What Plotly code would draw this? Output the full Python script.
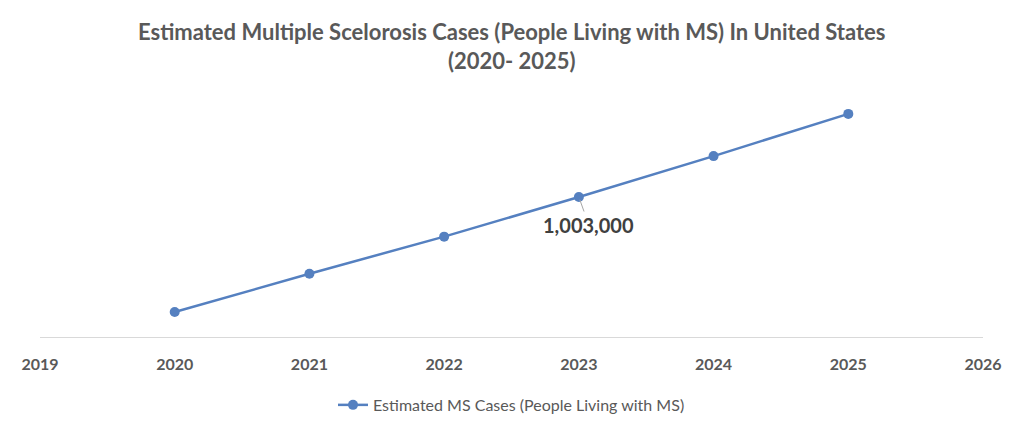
import plotly.graph_objects as go

# Estimated people living with MS in the US (only 2023 is labelled in the source)
years = [2020, 2021, 2022, 2023, 2024, 2025]
cases = [913000, 943000, 972000, 1003000, 1035000, 1068000]
tick_years = [2019, 2020, 2021, 2022, 2023, 2024, 2025, 2026]

LINE_COLOR = '#5580C0'
TEXT_COLOR = '#595959'

fig = go.Figure()

fig.add_trace(go.Scatter(
    x=years,
    y=cases,
    mode='lines+markers',
    name='Estimated MS Cases (People Living with MS)',
    line=dict(color=LINE_COLOR, width=2.5),
    marker=dict(color=LINE_COLOR, size=10),
    hovertemplate='%{x}: %{y:,}<extra></extra>'
))

# Data label for 2023 with a short leader line
fig.add_annotation(
    x=years[3], y=cases[3],
    text=f"<b>{cases[3]:,}</b>",
    showarrow=True, arrowhead=0, arrowcolor='#a6a6a6', arrowwidth=1,
    ax=10, ay=28, standoff=3,
    font=dict(family='Lato', size=20, color='#404040')
)

# Title as an annotation so both lines sit where they should
fig.add_annotation(
    xref='paper', yref='paper', x=0.5, y=1.177,
    xanchor='center', yanchor='middle', showarrow=False,
    text='<b>Estimated Multiple Scelorosis Cases (People Living with MS) In United States<br>(2020- 2025)</b>',
    font=dict(family='Lato', size=22, color=TEXT_COLOR)
)

fig.update_layout(
    width=1016, height=425,
    margin=dict(l=32, r=41, t=82, b=95),
    plot_bgcolor='white',
    paper_bgcolor='white',
    showlegend=True,
    legend=dict(
        orientation='h', x=0.5, xanchor='center', y=-0.27, yanchor='middle',
        font=dict(family='Lato', size=16, color=TEXT_COLOR)
    ),
    xaxis=dict(
        range=[2019, 2026],
        tickmode='array', tickvals=tick_years,
        ticktext=[f'<b>{y}</b>' for y in tick_years],
        showgrid=False, zeroline=False,
        showline=True, linecolor='#d9d9d9', linewidth=1,
        ticks='', ticklabelstandoff=13,
        tickfont=dict(family='Lato', size=16, color=TEXT_COLOR)
    ),
    yaxis=dict(
        range=[893500, 1086700],
        visible=False, showgrid=False, zeroline=False
    )
)

fig.write_html("out.html")
